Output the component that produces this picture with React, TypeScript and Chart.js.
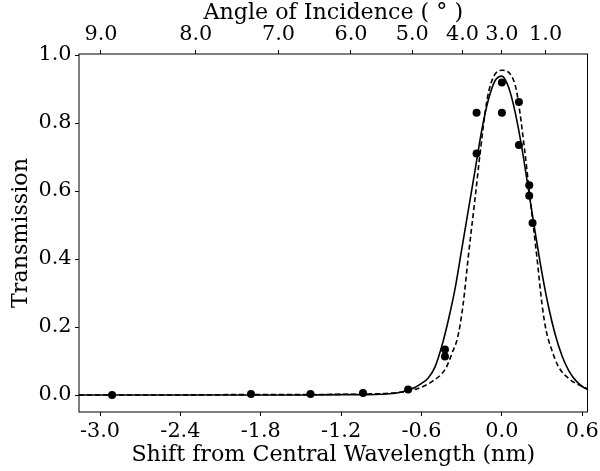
import { useEffect, useRef } from 'react';
import { Chart, registerables } from 'chart.js';

Chart.register(...registerables);

// Measured points (shift nm, transmission)
const pointsX = [-2.91, -1.873, -1.429, -1.037, -0.7, -0.425, -0.425, -0.189, -0.189, 0.0, 0.0, 0.127, 0.127, 0.204, 0.204, 0.229];
const pointsY = [0.0, 0.003, 0.003, 0.006, 0.016, 0.134, 0.113, 0.83, 0.71, 0.919, 0.83, 0.862, 0.735, 0.617, 0.586, 0.506];

// Solid curve
const solidX = [-3.157, -2.5, -2.0, -1.5, -1.2, -1.0, -0.9, -0.8, -0.75, -0.7, -0.65, -0.6, -0.55, -0.5, -0.45, -0.4, -0.35, -0.3, -0.25, -0.2, -0.15, -0.1, -0.05, 0.0, 0.05, 0.1, 0.15, 0.2, 0.25, 0.3, 0.35, 0.4, 0.45, 0.5, 0.55, 0.6, 0.639];
const solidY = [0, 0, 0, 0, 0.001, 0.001, 0.002, 0.005, 0.009, 0.015, 0.022, 0.034, 0.05, 0.082, 0.142, 0.22, 0.312, 0.428, 0.545, 0.662, 0.78, 0.87, 0.925, 0.938, 0.905, 0.83, 0.725, 0.6, 0.475, 0.357, 0.256, 0.175, 0.114, 0.071, 0.043, 0.025, 0.016];

// Dashed curve
const dashedX = [-3.157, -2.5, -2.0, -1.5, -1.2, -1.0, -0.85, -0.72, -0.62, -0.52, -0.42, -0.37, -0.33, -0.29, -0.25, -0.2, -0.16, -0.11, -0.06, 0.005, 0.06, 0.1, 0.12, 0.17, 0.21, 0.26, 0.3, 0.33, 0.37, 0.42, 0.51, 0.639];
const dashedY = [0, 0, 0.001, 0.001, 0.002, 0.003, 0.005, 0.01, 0.02, 0.04, 0.078, 0.125, 0.17, 0.265, 0.41, 0.58, 0.72, 0.87, 0.938, 0.955, 0.945, 0.91, 0.87, 0.72, 0.58, 0.41, 0.265, 0.19, 0.135, 0.085, 0.045, 0.018];

// Axes
const xMin = -3.157;
const xMax = 0.639;
const yMin = -0.05;
const yMax = 1.003;
const xTickValues = [-3.0, -2.4, -1.8, -1.2, -0.6, 0.0, 0.6];
const yTickValues = [0.0, 0.2, 0.4, 0.6, 0.8, 1.0];
const angleTickLabels = ['9.0', '8.0', '7.0', '6.0', '5.0', '4.0', '3.0', '1.0'];
const angleTickShifts = [-2.993, -2.285, -1.668, -1.127, -0.669, -0.294, 0.0, 0.326];

const FAMILY = 'DejaVu Serif';
const TICK_SIZE = 20.8;
const TITLE_SIZE = 22.2;

export default function App() {
  const ref = useRef<HTMLCanvasElement>(null);
  useEffect(() => {
    document.body.style.margin = '0';
    const canvas = ref.current!;
    const frame = {
      id: 'frame',
      afterDatasetsDraw(chart: any) {
        const { ctx, chartArea: a } = chart;
        ctx.save();
        ctx.strokeStyle = '#000';
        ctx.lineWidth = 1;
        ctx.strokeRect(a.left, a.top, a.right - a.left, a.bottom - a.top);
        ctx.restore();
      },
    };
    const tickFont = { family: FAMILY, size: TICK_SIZE };
    const titleFont = { family: FAMILY, size: TITLE_SIZE };
    const grid = { drawOnChartArea: false, drawTicks: true, tickLength: 4, tickColor: '#000', color: '#000' };
    const chart = new Chart(canvas, {
      type: 'scatter',
      data: {
        datasets: [
          {
            type: 'line',
            label: 'solid',
            data: solidX.map((x, i) => ({ x, y: solidY[i] })),
            borderColor: '#000',
            borderWidth: 1.6,
            pointRadius: 0,
            cubicInterpolationMode: 'monotone',
            fill: false,
          } as any,
          {
            type: 'line',
            label: 'dashed',
            data: dashedX.map((x, i) => ({ x, y: dashedY[i] })),
            borderColor: '#000',
            borderWidth: 1.6,
            borderDash: [5, 3],
            pointRadius: 0,
            cubicInterpolationMode: 'monotone',
            fill: false,
          } as any,
          {
            type: 'scatter',
            label: 'points',
            data: pointsX.map((x, i) => ({ x, y: pointsY[i] })),
            backgroundColor: '#000',
            borderColor: '#000',
            borderWidth: 0,
            pointRadius: 4,
          } as any,
        ],
      },
      options: {
        animation: false,
        responsive: false,
        layout: { padding: { top: 0, left: 0, right: 12.5, bottom: 0 } },
        plugins: { legend: { display: false }, tooltip: { enabled: false } },
        scales: {
          x: {
            type: 'linear',
            position: 'bottom',
            min: xMin,
            max: xMax,
            afterBuildTicks: (s: any) => {
              s.ticks = xTickValues.map((v) => ({ value: v }));
            },
            afterFit: (s: any) => {
              s.height = 59;
              s.paddingLeft = 0;
              s.paddingRight = 0;
            },
            ticks: {
              callback: (v: any) => Number(v).toFixed(1),
              autoSkip: false,
              maxRotation: 0,
              padding: 3.5,
              font: tickFont,
              color: '#000',
            },
            grid,
            border: { display: false },
            title: {
              display: true,
              text: 'Shift from Central Wavelength (nm)',
              font: titleFont,
              color: '#000',
              padding: { top: 0, bottom: 2.7 },
            },
          },
          x2: {
            type: 'linear',
            position: 'top',
            min: xMin,
            max: xMax,
            afterBuildTicks: (s: any) => {
              s.ticks = angleTickShifts.map((v) => ({ value: v }));
            },
            afterFit: (s: any) => {
              s.height = 54;
              s.paddingLeft = 0;
              s.paddingRight = 0;
            },
            ticks: {
              callback: (_v: any, i: number) => angleTickLabels[i],
              autoSkip: false,
              maxRotation: 0,
              padding: 2.5,
              font: tickFont,
              color: '#000',
            },
            grid,
            border: { display: false },
            title: {
              display: true,
              text: 'Angle of Incidence ( ° )',
              font: titleFont,
              color: '#000',
              padding: { top: 0, bottom: 0 },
            },
          },
          y: {
            type: 'linear',
            position: 'left',
            min: yMin,
            max: yMax,
            afterBuildTicks: (s: any) => {
              s.ticks = yTickValues.map((v) => ({ value: v }));
            },
            afterFit: (s: any) => {
              s.width = 79;
              s.paddingTop = 0;
              s.paddingBottom = 0;
            },
            ticks: {
              callback: (v: any) => Number(v).toFixed(1),
              autoSkip: false,
              padding: 3.5,
              font: tickFont,
              color: '#000',
            },
            grid,
            border: { display: false },
            title: {
              display: true,
              text: 'Transmission',
              font: titleFont,
              color: '#000',
              padding: { top: 7.7, bottom: 0 },
            },
          },
        },
      } as any,
      plugins: [frame],
    });
    return () => chart.destroy();
  }, []);
  return <canvas ref={ref} width={600} height={471} style={{ display: 'block' }} />;
}
